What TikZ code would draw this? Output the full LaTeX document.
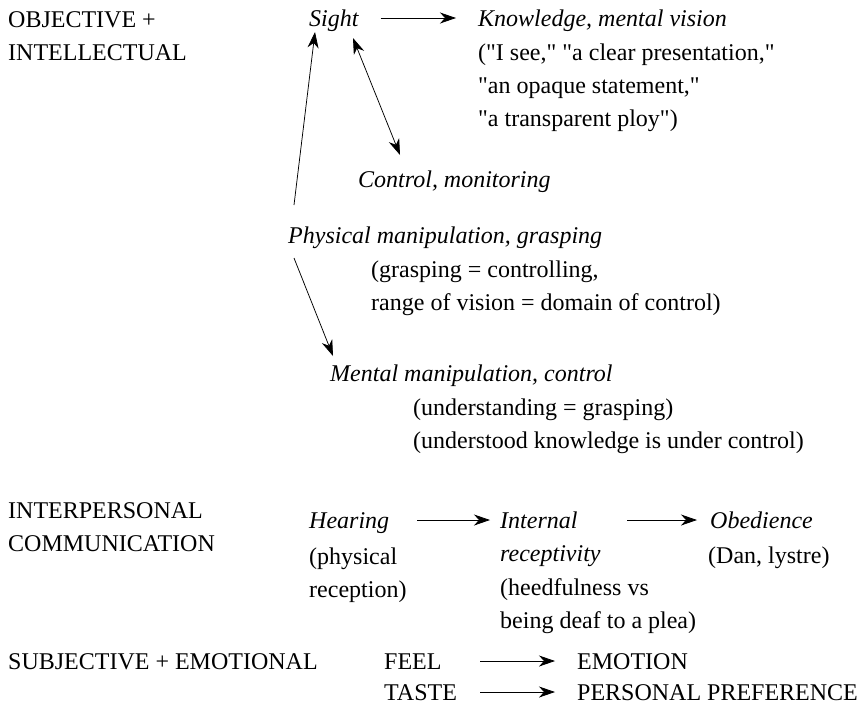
\documentclass[tikz,border=0pt]{standalone}
\usepackage{fontspec}
\setmainfont{Liberation Serif}
\usetikzlibrary{arrows.meta,calc}
\newcommand{\qd}{\textquotedbl}
\begin{document}
\begin{tikzpicture}[x=1pt,y=-1pt,
  txt/.style={anchor=base west,inner sep=0pt,align=left,font=\fontsize{24}{33}\selectfont},
  itx/.style={txt,font=\fontsize{24}{33}\selectfont\itshape},
  arr/.style={-{Stealth[length=16pt,width=11pt,inset=5pt]},line width=0.75pt},
  darr/.style={{Stealth[length=16pt,width=11pt,inset=5pt]}-{Stealth[length=16pt,width=11pt,inset=5pt]},line width=0.75pt}]
\useasboundingbox (0,0) rectangle (867,713);
% category labels (base = last line)
\node[txt] (obj) at (8,60) {OBJECTIVE +\\INTELLECTUAL};
\node[txt] (inter) at (8,551) {INTERPERSONAL\\COMMUNICATION};
\node[txt] (subj) at (8,669) {SUBJECTIVE + EMOTIONAL};
% objective block
\node[itx] (sight) at (309,26) {Sight};
\node[itx] (know) at (478,26) {Knowledge, mental vision};
\node[txt] (knowex) at (478,126) {(\qd I see,\qd{} \qd a clear presentation,\qd\\\qd an opaque statement,\qd\\\qd a transparent ploy\qd)};
\node[itx] (control) at (358,187) {Control, monitoring};
\node[itx] (phys) at (288,243) {Physical manipulation, grasping};
\node[txt] (physex) at (371,310) {(grasping = controlling,\\range of vision = domain of control)};
\node[itx] (mental) at (330,381) {Mental manipulation, control};
\node[txt] (mentex) at (413,448) {(understanding = grasping)\\(understood knowledge is under control)};
% interpersonal block
\node[itx] (hear) at (309,528) {Hearing};
\node[txt] (hearex) at (309,597) {(physical\\reception)};
\node[itx] (internal) at (500,561) {Internal\\receptivity};
\node[txt] (internex) at (500,628) {(heedfulness vs\\being deaf to a plea)};
\node[itx] (obed) at (710,528) {Obedience};
\node[txt] (obedex) at (708,563) {(Dan, lystre)};
% subjective block
\node[txt] (feel) at (384,669) {FEEL};
\node[txt] (emotion) at (577,669) {EMOTION};
\node[txt] (taste) at (384,700) {TASTE};
\node[txt] (pref) at (577,700) {PERSONAL PREFERENCE};
% connectors
\draw[arr] ($(sight.base east)+(22,-8)$) -- ($(know.base west)+(-22,-8)$);
\draw[darr] ($(sight.base west)+(44,12)$) -- ($(control.base west)+(42,-32)$);
\draw[arr] ($(phys.base west)+(6,-38)$) -- ($(sight.base west)+(6,6)$);
\draw[arr] ($(phys.base west)+(6,15)$) -- ($(mental.base west)+(3,-25)$);
\draw[arr] ($(hear.base east)+(28,-8)$) -- ($(hear.base east -| internal.west)+(-10,-8)$);
\draw[arr] ($(obed.base west -| internal.west)+(127,-8)$) -- ($(obed.base west)+(-13,-8)$);
\draw[arr] ($(emotion.base west)+(-97,-8)$) -- ($(emotion.base west)+(-22,-8)$);
\draw[arr] ($(pref.base west)+(-97,-8)$) -- ($(pref.base west)+(-22,-8)$);
\end{tikzpicture}
\end{document}
